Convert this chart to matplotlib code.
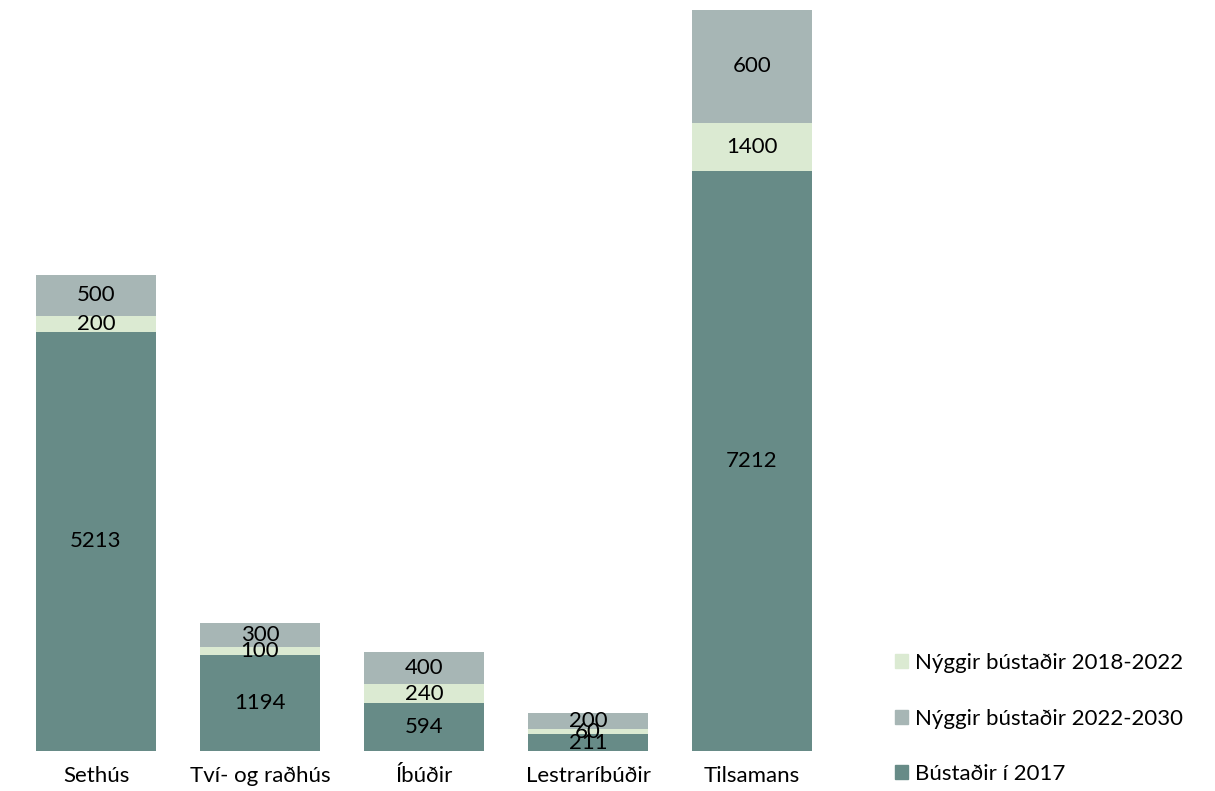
import matplotlib
matplotlib.use("Agg")
import matplotlib.pyplot as plt
from matplotlib.patches import Patch

plt.rcParams['font.family'] = ['Lato', 'DejaVu Sans']

# data
categories = ["Sethús", "Tví- og raðhús", "Íbúðir", "Lestraríbúðir", "Tilsamans"]
bustadir_2017 = [5213, 1194, 594, 211, 7212]
nyggir_2018_2022 = [200, 100, 240, 60, 600]
nyggir_2022_2030 = [500, 300, 400, 200, 1400]
# numbers as printed on the bars (the total bar has its two top labels swapped)
labels_2017 = ["5213", "1194", "594", "211", "7212"]
labels_2018_2022 = ["200", "100", "240", "60", "1400"]
labels_2022_2030 = ["500", "300", "400", "200", "600"]

c_2017 = "#678b87"
c_1822 = "#dbead2"
c_2230 = "#a7b6b5"

W, H = 1215, 791
fig = plt.figure(figsize=(W / 100, H / 100), dpi=100)
ax = fig.add_axes([14 / W, 1 - 751 / H, 820 / W, 741 / H])

x = range(len(categories))
bw = 0.726
b1 = ax.bar(x, bustadir_2017, width=bw, color=c_2017)
b2 = ax.bar(x, nyggir_2018_2022, width=bw, bottom=bustadir_2017, color=c_1822)
bottom3 = [a + b for a, b in zip(bustadir_2017, nyggir_2018_2022)]
b3 = ax.bar(x, nyggir_2022_2030, width=bw, bottom=bottom3, color=c_2230)

fs = 16
ax.bar_label(b1, labels=labels_2017, label_type="center", fontsize=fs)
ax.bar_label(b2, labels=labels_2018_2022, label_type="center", fontsize=fs)
ax.bar_label(b3, labels=labels_2022_2030, label_type="center", fontsize=fs)

ax.set_xlim(-0.5, 4.5)
ax.set_ylim(0, 9212)
ax.set_xticks(list(x))
ax.set_xticklabels(categories, fontsize=fs)
ax.tick_params(axis="x", length=0, pad=11)
ax.set_yticks([])
for s in ax.spines.values():
    s.set_visible(False)

handles = [Patch(color=c_1822), Patch(color=c_2230), Patch(color=c_2017)]
names = ["Nýggir bústaðir 2018-2022", "Nýggir bústaðir 2022-2030", "Bústaðir í 2017"]
fig.legend(handles, names, loc="upper left", bbox_to_anchor=(895 / W, 1 - 653 / H),
           frameon=False, fontsize=fs, borderpad=0, borderaxespad=0,
           handlelength=0.6, handleheight=0.6, handletextpad=0.3, labelspacing=1.6)

fig.savefig("out.png", dpi=100)
